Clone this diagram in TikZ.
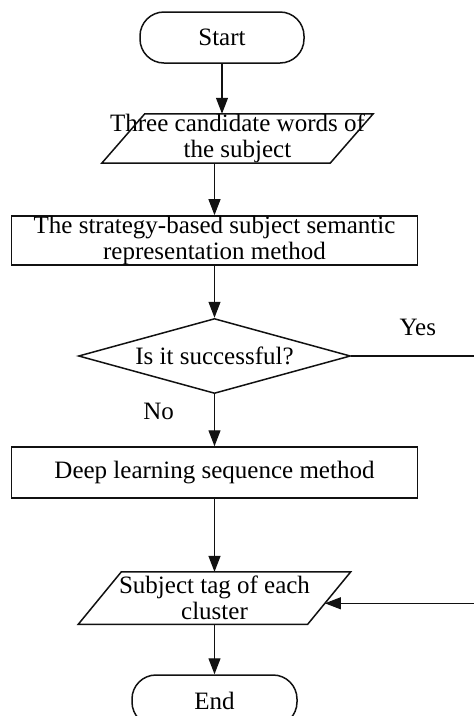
\documentclass[tikz,border=0pt]{standalone}
\usepackage{fontspec}
\setmainfont{Liberation Serif}
\usetikzlibrary{arrows.meta,positioning,shapes.geometric}
\definecolor{ink}{HTML}{111111}
\tikzset{
  term/.style={draw=ink, line width=1.5pt, rounded corners=24pt, minimum width=164pt, minimum height=51pt, inner sep=0pt, align=center},
  procbox/.style={draw=ink, line width=1.6pt, minimum width=406pt, minimum height=49pt, inner sep=0pt, align=center},
  iobox/.style={minimum height=49pt, inner sep=0pt, align=center},
  ioline/.style={draw=ink, line width=1.5pt},
  decision/.style={diamond, aspect=3.6, draw=ink, line width=1.5pt, minimum width=272pt, minimum height=75pt, inner sep=0pt, align=center},
  lbl/.style={inner sep=0pt},
  arrow/.style={-{Triangle[length=16pt, width=12pt]}, line width=1.2pt, draw=ink}
}
\begin{document}
\begin{tikzpicture}[x=1pt, y=-1pt, font=\fontsize{25}{25.5}\selectfont]
  \useasboundingbox (0,0) rectangle (474,716);

  \node[term] (start) at (222,37.5) {Start};
  \node[iobox, minimum width=271pt, below=50pt of start, xshift=15.5pt] (cand) {Three candidate words of\\the subject};
  \node[procbox, below=52pt of cand, xshift=-23pt] (strat) {The strategy-based subject semantic\\representation method};
  \node[decision, below=52pt of strat] (succ) {Is it successful?};
  \node[procbox, minimum height=51pt, below=52pt of succ] (deep) {Deep learning sequence method};
  \node[iobox, minimum width=272pt, minimum height=52pt, below=73pt of deep] (tag) {Subject tag of each\\cluster};
  \node[term, minimum width=165pt, below=50pt of tag] (end) {End};

  % slanted outlines of the two data boxes
  \draw[ioline] ([xshift=43pt]cand.north west) -- (cand.north east) -- ([xshift=-43pt]cand.south east) -- (cand.south west) -- cycle;
  \draw[ioline] ([xshift=43pt]tag.north west) -- (tag.north east) -- coordinate[pos=0.6] (tagin) ([xshift=-43pt]tag.south east) -- (tag.south west) -- cycle;

  \coordinate (turn) at ([xshift=128pt]succ.east);

  \draw[arrow] (start) -- (start |- cand.north);
  \draw[arrow] (cand.south -| strat) -- (strat);
  \draw[arrow] (strat) -- (succ);
  \draw[arrow] (succ) -- node[lbl, pos=0.33, left=40pt] (no) {No} (deep);
  \draw[arrow] (deep) -- (tag);
  \draw[arrow] (tag) -- (end);
  \draw[arrow] (succ.east) -- node[lbl, above=20pt, pos=0.52] (yes) {Yes} (turn) |- (tagin);
\end{tikzpicture}
\end{document}
